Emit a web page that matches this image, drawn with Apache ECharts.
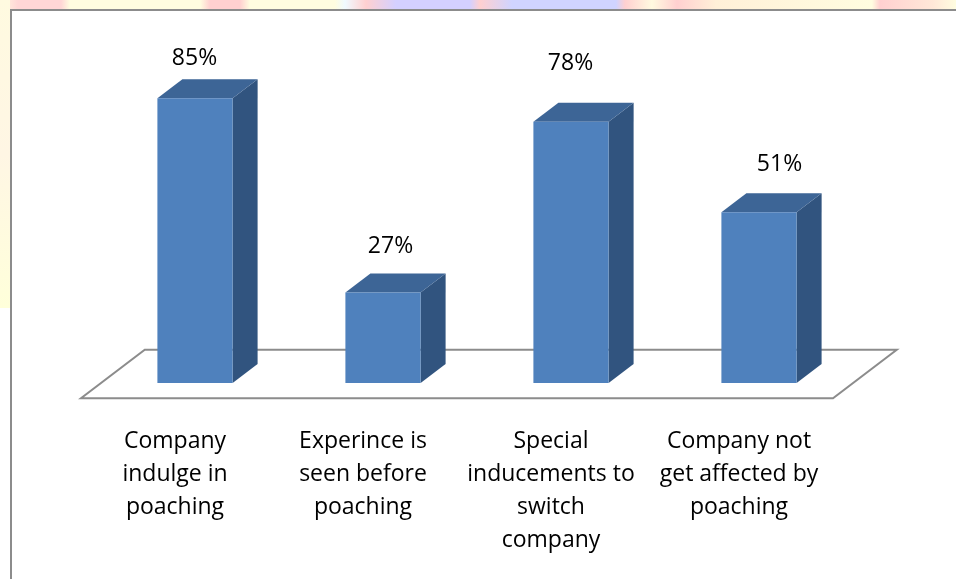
<!DOCTYPE html>
<html><head><meta charset="utf-8">
<script src="https://cdn.jsdelivr.net/npm/echarts@6/dist/echarts.min.js"></script>
<style>html,body{margin:0;padding:0;background:#fff}#c{width:956px;height:579px}</style>
</head><body><div id="c"></div>
<script>
// ---- data ----
const categories = [
  'Company\nindulge in\npoaching',
  'Experince is\nseen before\npoaching',
  'Special\ninducements to\nswitch\ncompany',
  'Company not\nget affected by\npoaching'
];
const values = [85, 27, 78, 51];
const valueLabels = ['85%', '27%', '78%', '51%'];

// ---- layout / style ----
const FRONT = '#4F81BD', TOP = '#3D6596', SIDE = '#31547F';
const DEPTH = [25, -19];
const labelDx = [-0.5, 7.5, -0.5, 20.5];
const labelDy = [-40, -46, -58, -48];
const FONT = '"Open Sans", "Liberation Sans", sans-serif';

const chart = echarts.init(document.getElementById('c'), null, {renderer: 'canvas'});

const topStops = [
  [0,'#FFF8E0'],[18,'#FFD6D6'],[61,'#FFD6D6'],[70,'#FFFDE0'],[200,'#FFFDE0'],[210,'#FFD0D0'],
  [240,'#FFD0D0'],[250,'#FFFDE0'],[335,'#FFFDE0'],[345,'#F0FAFF'],[366,'#FFD0D0'],[396,'#D4D0FF'],
  [470,'#D4D0FF'],[480,'#FFD0D0'],[512,'#D0D4FF'],[616,'#D0D4FF'],[625,'#FFD0D0'],[652,'#FFFAE0'],
  [677,'#FFD0D0'],[716,'#FFF0D8'],[872,'#FFFDE0'],[880,'#FFD0D0'],[933,'#FFE8D8'],[956,'#FFFDE0']
].map(s => ({offset: s[0] / 956, color: s[1]}));

const option = {
  animation: false,
  backgroundColor: '#fff',
  graphic: [
    {type: 'rect', z: -10, shape: {x: 0, y: 0, width: 956, height: 10},
     style: {fill: {type: 'linear', x: 0, y: 0, x2: 1, y2: 0, colorStops: topStops}}},
    {type: 'rect', z: -10, shape: {x: 0, y: 0, width: 10, height: 308},
     style: {fill: {type: 'linear', x: 0, y: 0, x2: 0, y2: 1, colorStops: [
       {offset: 0, color: '#FFFAE0'}, {offset: 0.5, color: '#FFF6E4'}, {offset: 1, color: '#FFFFDA'}]}}},
    {type: 'rect', z: -5, shape: {x: 11, y: 10, width: 1200, height: 1200},
     style: {fill: '#fff', stroke: '#8C8C8C', lineWidth: 2}}
  ],
  grid: {left: 101, right: 103, top: 48, bottom: 196},
  xAxis: {
    type: 'category', data: categories,
    axisLine: {show: false}, axisTick: {show: false}, splitLine: {show: false},
    axisLabel: {interval: 0, color: '#000', fontFamily: FONT, fontSize: 23, lineHeight: 33,
      margin: 42, padding: [0, 40, 0, 0]}
  },
  yAxis: {type: 'value', min: 0, max: 100, show: false},
  series: [
    {
      type: 'custom', z: 1,
      data: [[0, 0]],
      renderItem(params, api) {
        const n = categories.length;
        const bw = api.size([1, 0])[0];
        const a = api.coord([0, 0]), b = api.coord([n - 1, 0]);
        const xl = a[0] - bw / 2, xr = b[0] + bw / 2, y = a[1];
        const f = -0.8, k = 1.75;
        const pts = [
          [xl + f * DEPTH[0], y + f * DEPTH[1]],
          [xr + f * DEPTH[0], y + f * DEPTH[1]],
          [xr + k * DEPTH[0], y + k * DEPTH[1]],
          [xl + k * DEPTH[0], y + k * DEPTH[1]]
        ];
        return {type: 'polygon', shape: {points: pts},
          style: {fill: null, stroke: '#8C8C8C', lineWidth: 2}};
      }
    },
    {
      type: 'custom', z: 3,
      data: values.map((v, i) => [i, v]),
      renderItem(params, api) {
        const i = api.value(0), v = api.value(1);
        const base = api.coord([i, 0]), top = api.coord([i, v]);
        const w = api.size([1, 0])[0] * 0.4;
        const x0 = base[0] - w / 2, x1 = base[0] + w / 2;
        const yb = base[1], yt = top[1];
        const dx = DEPTH[0], dy = DEPTH[1];
        return {type: 'group', children: [
          {type: 'polygon', shape: {points: [[x1, yb], [x1 + dx, yb + dy], [x1 + dx, yt + dy], [x1, yt]]},
           style: {fill: SIDE}},
          {type: 'polygon', shape: {points: [[x0, yt], [x0 + dx, yt + dy], [x1 + dx, yt + dy], [x1, yt]]},
           style: {fill: TOP}},
          {type: 'rect', shape: {x: x0, y: yt, width: w, height: yb - yt}, style: {fill: FRONT}},
          {type: 'text', style: {text: valueLabels[i], x: base[0] + labelDx[i], y: yt + labelDy[i],
            align: 'center', verticalAlign: 'middle', fill: '#000', fontFamily: FONT, fontSize: 23}}
        ]};
      }
    }
  ]
};
chart.setOption(option);
</script></body></html>
